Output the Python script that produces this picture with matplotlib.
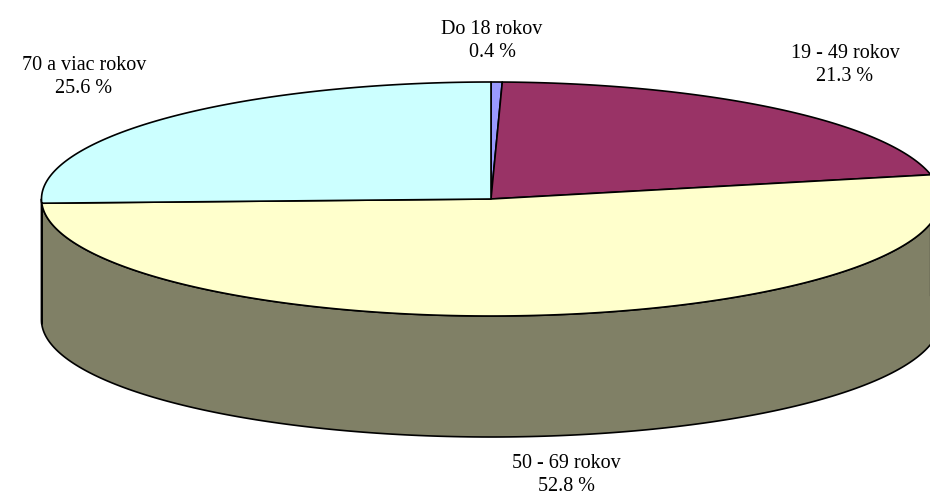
import numpy as np
import matplotlib
matplotlib.use("Agg")
import matplotlib.pyplot as plt

labels = ["Do 18 rokov", "19 - 49 rokov", "50 - 69 rokov", "70 a viac rokov"]
values = [0.4, 21.3, 52.8, 25.6]
value_labels = ["0.4 %", "21.3 %", "52.8 %", "25.6 %"]
top_colors = ["#9999FF", "#993366", "#FFFFCC", "#CCFFFF"]
side_colors = ["#4C4C80", "#4C1933", "#808066", "#668080"]

# where the pie sits, in pixels of the 930x503 picture
CX, CY, RX, RY, DEPTH = 491, 199, 449.5, 117, 121
label_pos = [(492, 41), (845, 65), (566, 475), (84, 77)]


def rim(a, b, n=200):
    # angles run clockwise from 12 o'clock, in degrees
    t = np.radians(np.linspace(a, b, n))
    return CX + RX * np.sin(t), CY - RY * np.cos(t)


def main():
    fig = plt.figure(figsize=(9.3, 5.03), dpi=100)
    ax = fig.add_axes([0, 0, 1, 1])
    ax.set_xlim(0, 930)
    ax.set_ylim(503, 0)
    ax.axis("off")

    edges = np.concatenate([[0], np.cumsum(values)]) / sum(values) * 360

    # side wall first, only the front half of the rim is visible
    for i in range(len(values)):
        a, b = max(edges[i], 90), min(edges[i + 1], 270)
        if a >= b:
            continue
        x, y = rim(a, b)
        ax.fill(np.r_[x, x[::-1]], np.r_[y, y[::-1] + DEPTH],
                facecolor=side_colors[i], edgecolor="black", linewidth=1.2,
                joinstyle="round")

    # the bit of wall between the 50-69 boundary and the right edge
    a, b = edges[2], 90
    x, y = rim(a, b)
    ax.fill(np.r_[x, x[::-1]], np.r_[y, y[::-1] + DEPTH],
            facecolor=side_colors[2], edgecolor="black", linewidth=1.2)

    for i in range(len(values)):
        x, y = rim(edges[i], edges[i + 1])
        ax.fill(np.r_[CX, x], np.r_[CY, y],
                facecolor=top_colors[i], edgecolor="black", linewidth=1.2,
                joinstyle="round")

    for name, val, (px, py) in zip(labels, value_labels, label_pos):
        ax.text(px, py, name + "\n" + val, ha="center", va="center",
                family="Liberation Serif", fontsize=14.5, color="black",
                linespacing=1.25)

    fig.savefig("out.png", dpi=100)


if __name__ == "__main__":
    main()
